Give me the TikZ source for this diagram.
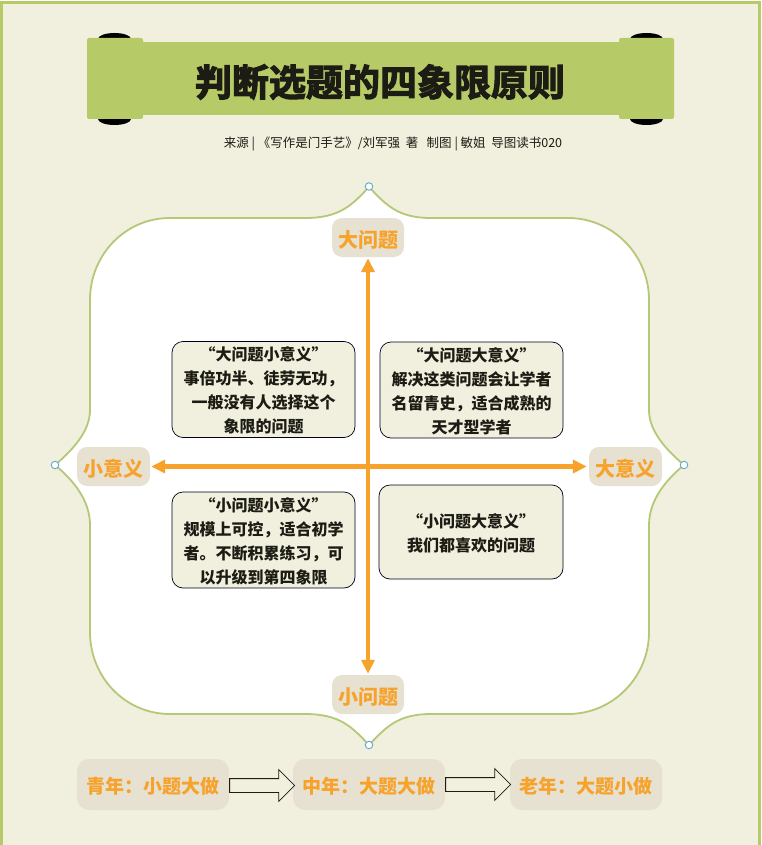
\documentclass[tikz,border=0pt]{standalone}
\usepackage{fontspec}
\setmainfont{Noto Sans CJK SC}
\newfontfamily\titlefont[FakeBold=3]{Noto Sans CJK SC Bold}
\usetikzlibrary{arrows.meta,shapes.arrows}
\definecolor{paper}{HTML}{F1EFDD}
\definecolor{leaf}{HTML}{B7CA68}
\definecolor{line}{HTML}{B5C878}
\definecolor{amber}{HTML}{F7A22B}
\definecolor{tag}{HTML}{E6E1D1}
\definecolor{pin}{HTML}{5FA8CC}
\definecolor{ink}{HTML}{1C1C14}
\newcommand\dropped[2][2.2pt]{\raisebox{-#1}[\height][\depth]{#2}}
\newcommand\lines[1]{\dropped{\begin{tabular}{@{}c@{}}#1\end{tabular}}}
\tikzset{
  x=1pt,y=-1pt,
  quad/.style={draw=black!90!blue,line width=.7pt,fill=paper,rounded corners=11pt,text=ink,align=center,
    font=\fontsize{16}{24}\selectfont\bfseries,inner sep=0pt},
  tagbox/.style={fill=tag,rounded corners=10pt,text=amber,font=\fontsize{20}{22}\selectfont\bfseries,inner sep=0pt,align=center},
  agebox/.style={fill=tag,rounded corners=12pt,text=amber,font=\fontsize{19}{22}\selectfont\bfseries,inner sep=0pt,
    minimum width=152pt,minimum height=51pt},
  axis/.style={amber,line width=4.2pt,{Triangle[length=14pt,width=13pt]}-{Triangle[length=14pt,width=13pt]}},
  pinmark/.style={circle,draw=pin,fill=white,line width=.9pt,minimum size=7.5pt,inner sep=0pt},
  blockarrow/.style={single arrow,draw=ink,fill=paper,line width=.8pt,inner xsep=0pt,inner ysep=6.5pt,
    minimum height=65pt,single arrow head extend=9pt,single arrow head indent=0pt},
}
\begin{document}
\begin{tikzpicture}
\useasboundingbox (0,0) rectangle (761,845);
\begin{scope}
\clip (0,0) rectangle (761,845);
\fill[white] (0,0) rectangle (761,845);
\draw[leaf,line width=3pt,fill=paper] (1.5,3) rectangle (759.5,870);
\end{scope}
% scroll banner
\fill[black] (114.5,39) ellipse [x radius=16.5pt,y radius=6pt];
\fill[black] (114.5,119) ellipse [x radius=16.5pt,y radius=6pt];
\fill[black] (646.5,39) ellipse [x radius=16.5pt,y radius=6pt];
\fill[black] (646.5,119) ellipse [x radius=16.5pt,y radius=6pt];
\fill[leaf] (130,42) rectangle (630,115);
\fill[leaf,rounded corners=2pt] (87,38) rectangle (143,119);
\fill[leaf,rounded corners=2pt] (619,38) rectangle (674,119);
\node[text=ink,inner sep=0pt,font=\fontsize{37}{40}\titlefont] (title) at (380,82) {判断选题的四象限原则};
\node[text=ink,inner sep=0pt,font=\fontsize{12.5}{14}\selectfont] (source) at (393,144) {来源 |\ 《写作是门手艺》/刘军强\ \ 著\ \ \ 制图 | 敏姐\ \ 导图读书020};
% outline
\path[draw=line,line width=1.8pt,fill=white]
  (369,187) .. controls (352,205) and (340,218) .. (305,218)
  -- (170,218) .. controls (125,218) and (90,255) .. (90,300)
  -- (90,410) .. controls (90,430) and (75,448) .. (55,465)
  .. controls (73,480) and (90,500) .. (90,525)
  -- (90,632) .. controls (90,677) and (125,714) .. (170,714)
  -- (305,714) .. controls (340,714) and (352,727) .. (369,745)
  .. controls (386,727) and (398,714) .. (431,714)
  -- (568,714) .. controls (613,714) and (649,677) .. (649,632)
  -- (649,525) .. controls (649,500) and (666,480) .. (684,465)
  .. controls (664,448) and (649,430) .. (649,410)
  -- (649,300) .. controls (649,255) and (613,218) .. (568,218)
  -- (431,218) .. controls (398,218) and (386,205) .. (369,187) -- cycle;
\node[pinmark] (pintop) at (369,186.5) {};
\node[pinmark] (pinbottom) at (369,745) {};
\node[pinmark] (pinleft) at (55,465) {};
\node[pinmark] (pinright) at (684,465) {};
% tags
\node[tagbox,minimum width=72pt,minimum height=39pt] (big) at (368,237.5) {\dropped{大问题}};
\node[tagbox,minimum width=72pt,minimum height=39pt] (small) at (368,694.5) {\dropped{小问题}};
\node[tagbox,minimum width=73pt,minimum height=39pt] (low) at (113.5,466.5) {\dropped{小意义}};
\node[tagbox,minimum width=73pt,minimum height=39pt] (high) at (625.5,466.5) {\dropped{大意义}};
% axes
\draw[axis,shorten >=1pt,shorten <=1pt] (big.south) -- (small.north);
\draw[axis,shorten >=2pt,shorten <=1pt] (low.east) -- (high.west);
% quadrant boxes
\node[quad,minimum width=183pt,minimum height=95pt] (q2) at (263.5,389.5) {\lines{“大问题小意义”\\事倍功半、徒劳无功，\\一般没有人选择这个\\象限的问题}};
\node[quad,minimum width=183pt,minimum height=94pt] (q1) at (471.5,390) {\lines{“大问题大意义”\\解决这类问题会让学者\\名留青史，适合成熟的\\天才型学者}};
\node[quad,minimum width=183pt,minimum height=94pt] (q3) at (263.5,540) {\lines{“小问题小意义”\\规模上可控，适合初学\\者。不断积累练习，可\\以升级到第四象限}};
\node[quad,minimum width=184pt,minimum height=94pt] (q4) at (471,532) {\lines{“小问题大意义”\\我们都喜欢的问题}};
% ages
\node[agebox] (young) at (153,784.5) {\dropped{青年：小题大做}};
\node[agebox] (middle) at (369,784.5) {\dropped{中年：大题大做}};
\node[agebox] (old) at (586,784.5) {\dropped{老年：大题小做}};
\node[blockarrow,anchor=west,yshift=-1pt] (a1) at (young.east) {};
\node[blockarrow,anchor=west] (a2) at (middle.east) {};
\end{tikzpicture}
\end{document}
